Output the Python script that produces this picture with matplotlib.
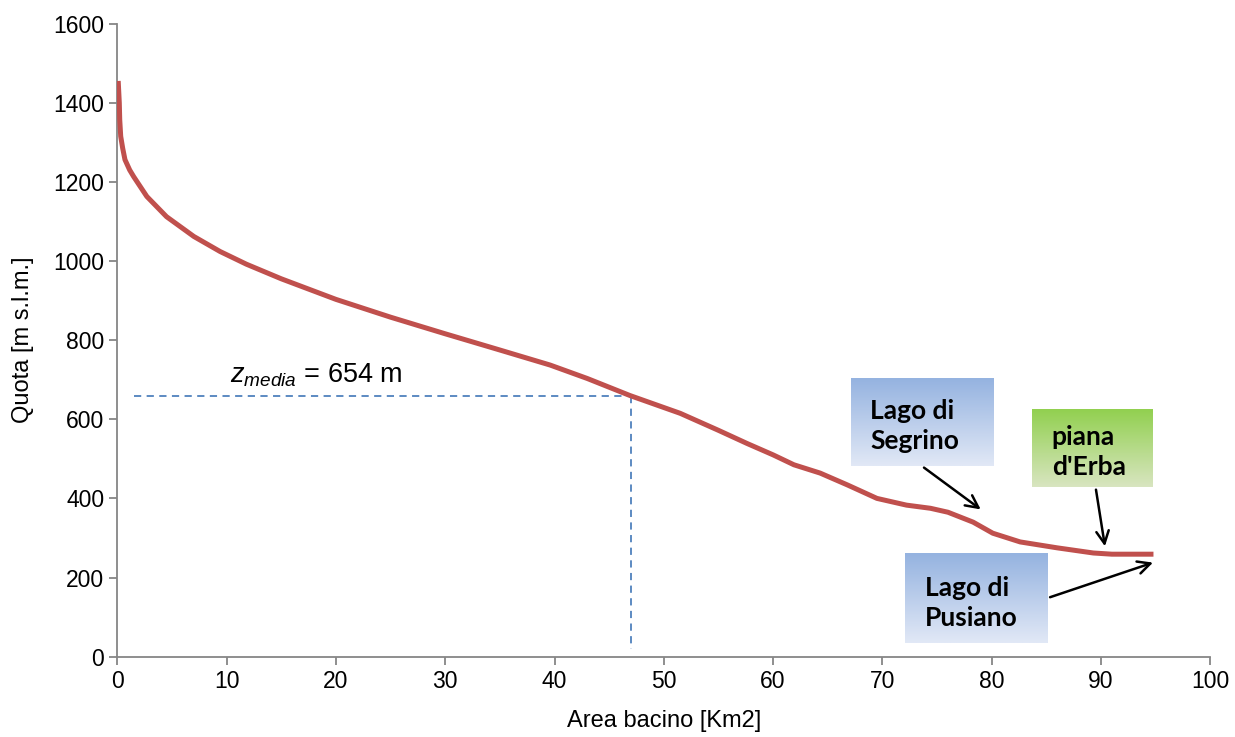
import numpy as np
import matplotlib.pyplot as plt
import matplotlib.colors as mcolors

# Hypsometric curve
area = [0.08, 0.18, 0.22, 0.31, 0.49, 0.7, 1.13, 1.5, 2.7, 4.5, 7, 9.4, 11.8, 15, 20,
        25, 30, 35, 39.6, 43, 46.9, 51.5, 55, 57.6, 60, 61.9, 64.3, 66.8, 69.5, 72.2,
        74.4, 76, 78.3, 80.1, 82.6, 86, 89.3, 91, 94.8]
quota = [1455, 1400, 1357, 1315, 1285, 1256, 1230, 1213, 1163, 1112, 1062, 1024, 992,
         955, 903, 858, 816, 775, 737, 703, 660, 615, 572, 539, 510, 485, 464, 434,
         400, 383, 375, 365, 340, 312, 290, 275, 262, 259, 259]

z_media = 654
area_media = 47.0

# annotation boxes: (text, x0, x1, y0, y1, top colour, bottom colour)
boxes = [("Lago di\nSegrino", 67.1, 80.1, 482, 704, "#95b3e0", "#e1e8f6"),
         ("piana\nd'Erba", 83.7, 94.7, 429, 624, "#92d050", "#d8e5c0"),
         ("Lago di\nPusiano", 72.1, 85.1, 34, 259, "#95b3e0", "#e1e8f6")]
arrows = [((73.6, 482), (79.2, 368)),
          ((89.5, 429), (90.4, 272)),
          ((85.1, 148), (95.0, 240))]

plt.rcParams['font.family'] = ['Liberation Sans', 'DejaVu Sans']
plt.rcParams['mathtext.fontset'] = 'custom'
plt.rcParams['mathtext.rm'] = 'Liberation Sans'
plt.rcParams['mathtext.it'] = 'Liberation Sans:italic'

fig = plt.figure(figsize=(12.35, 7.37), dpi=100)
ax = fig.add_axes([0.095, 0.109, 0.885, 0.859])

ax.plot(area, quota, color="#c0504d", linewidth=3.6, solid_capstyle="butt",
        solid_joinstyle="round", zorder=3)

# mean elevation guide lines
ax.plot([1.5, area_media], [660, 660], color="#4f81bd", linewidth=1.3,
        linestyle=(0, (4, 3)), zorder=2)
ax.plot([area_media, area_media], [660, 20], color="#4f81bd", linewidth=1.3,
        linestyle=(0, (4, 3)), zorder=2)
ax.text(10.3, 692, r"$z_{media}$ = " + f"{z_media} m", fontsize=19.5)

for text, x0, x1, y0, y1, ctop, cbot in boxes:
    c1 = np.array(mcolors.to_rgb(ctop))
    c2 = np.array(mcolors.to_rgb(cbot))
    t = np.linspace(0, 1, 64)[:, None]
    grad = (c1 * (1 - t) + c2 * t)[:, None, :]
    ax.imshow(grad, extent=[x0, x1, y0, y1], origin="upper", aspect="auto", zorder=4)
    ax.text(x0 + 1.8, (y0 + y1) / 2 - 10, text, fontsize=19, fontweight="bold",
            fontfamily="Lato", va="center", ha="left", linespacing=1.3, zorder=5)

for (xs, ys), (xe, ye) in arrows:
    ax.annotate("", xy=(xe, ye), xytext=(xs, ys), zorder=6,
                arrowprops=dict(arrowstyle="->,head_length=0.9,head_width=0.45",
                                color="black", linewidth=1.8))

ax.set_xlim(0, 100)
ax.set_ylim(0, 1600)
ax.set_xticks(range(0, 101, 10))
ax.set_yticks(range(0, 1601, 200))
ax.set_xlabel("Area bacino [Km2]", fontsize=17, labelpad=12)
ax.set_ylabel("Quota [m s.l.m.]", fontsize=17, labelpad=14)
ax.tick_params(labelsize=16.5, color="#868686", length=6, width=1.3)
for s in ["top", "right"]:
    ax.spines[s].set_visible(False)
for s in ["left", "bottom"]:
    ax.spines[s].set_color("#868686")
    ax.spines[s].set_linewidth(1.3)

plt.savefig("out.png", dpi=100)
plt.close()
